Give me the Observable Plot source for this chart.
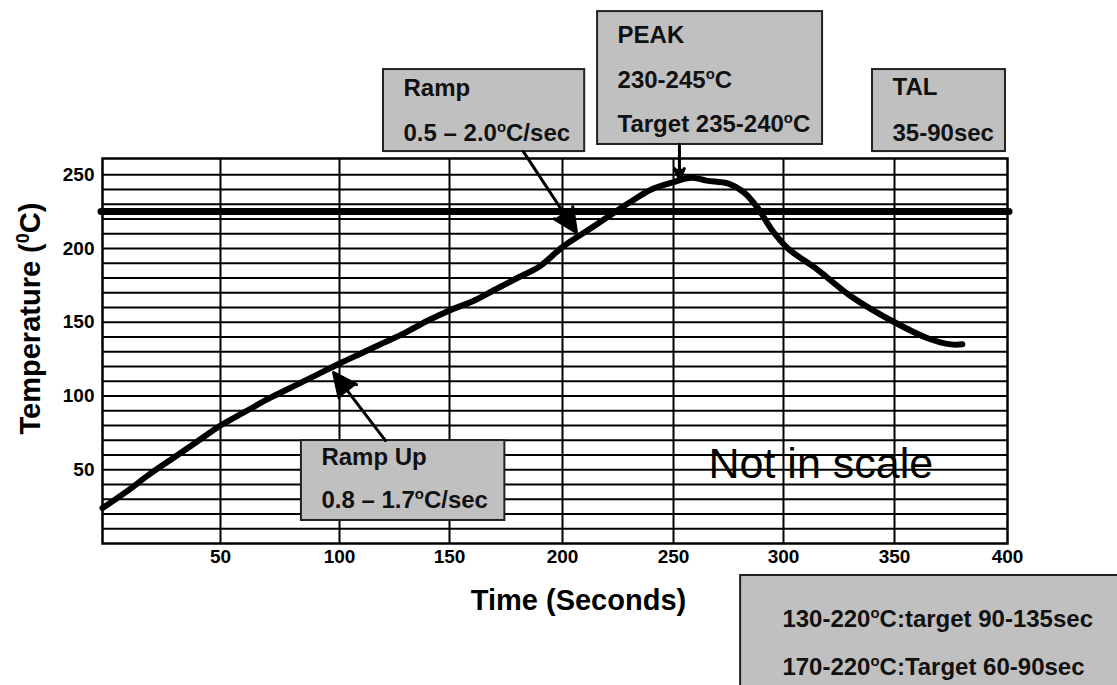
<!DOCTYPE html>
<html><head><meta charset="utf-8">
<script src="https://cdn.jsdelivr.net/npm/d3@7"></script>
<script src="https://cdn.jsdelivr.net/npm/@observablehq/plot@0.6"></script>
<style>
html,body{margin:0;padding:0;background:#fff;}
</style></head><body><div id="chart"></div>
<script>
// Reflow profile: time (s) and temperature (°C)
const time = [0,10,20,30,40,50,60,70,80,90,100,110,120,130,140,150,160,170,180,190,200,210,220,230,240,250,258,265,275,282,288,295,302,315,330,350,365,375,380];
const temp = [24,35,47,58,69,80,89,98,106,114,122,129,136,143,151,158,164,172,180,188,201,211,221,231,240,245,248,246,244,238,228,212,200,186,168,150,139,135,135];

const xTicks = [50,100,150,200,250,300,350,400];
const xGrid = [50,100,150,200,250,300,350];
const yTicks = [50,100,150,200,250];
const yGrid = [10,20,30,40,50,60,70,80,90,100,110,120,130,140,150,160,170,180,190,200,210,220,230,240,250];
const talLevel = [225];

// the drawing is "not in scale": where each 50 s gridline actually sits, in evenly spaced units
const xBreaks = [0,50,100,150,200,250,300,350,400];
const xDrawn  = [0,52.15,104.75,153.37,203.31,252.38,300.99,350.06,400];

// annotation boxes (data units)
const boxNames = ["ramp","peak","tal","rampUp","window"];
const boxX1 = [120, 215.8, 340.1, 84, 280.5];
const boxX2 = [210, 317.6, 399.1, 174.5, 480];
const boxY1 = [265.7, 270.5, 265.7, 15.6, -130];
const boxY2 = [321.3, 360.6, 321.3, 69.8, -21.7];

// annotation text lines ("^" marks a superscript character)
const labelText = ["Ramp","0.5 – 2.0^oC/sec","PEAK","230-245^oC","Target 235-240^oC","TAL","35-90sec","Ramp Up","0.8 – 1.7^oC/sec","130-220^oC:target 90-135sec","170-220^oC:Target 60-90sec"];
const labelX = [129.1,129.1,224.8,224.8,224.8,349.1,349.1,92.4,92.4,299.5,299.5];
const labelY = [308.5,278,344.4,313.9,284.1,309.1,278,58.3,29.2,-51.5,-84.1];

// arrows
const arrX1 = [182.7, 252.7, 120.9];
const arrY1 = [265.7, 270.5, 69.8];
const arrX2 = [206.3, 252.7, 97.5];
const arrY2 = [210.8, 247, 115.9];

const profile = time.map((t,i)=>({t, T: temp[i]}));
const boxes = boxNames.map((n,i)=>({n, x1: boxX1[i], x2: boxX2[i], y1: boxY1[i], y2: boxY2[i]}));
const labels = labelText.map((s,i)=>({s, x: labelX[i], y: labelY[i]}));
const arrows = arrX1.map((d,i)=>({x1: arrX1[i], y1: arrY1[i], x2: arrX2[i], y2: arrY2[i]}));

const warp = d3.scaleLinear().domain(xBreaks).range(xDrawn);

const FONT = "'Liberation Sans', Arial, sans-serif";

const chart = Plot.plot({
  width: 1117,
  height: 685,
  marginLeft: 102,
  marginRight: 110,
  marginTop: 158,
  marginBottom: 142,
  style: {background: "#fff", fontFamily: FONT, color: "#000"},
  x: {domain: [0, 400], transform: (v) => warp(v)},
  y: {domain: [0, 261]},
  marks: [
    Plot.gridY(yGrid, {stroke: "#000", strokeOpacity: 1, strokeWidth: 2}),
    Plot.gridX(xGrid, {stroke: "#000", strokeOpacity: 1, strokeWidth: 2}),
    Plot.frame({stroke: "#000", strokeWidth: 2.5}),
    Plot.axisX(xTicks, {tickSize: 0, tickPadding: 6, fontSize: 19, fontWeight: "bold", label: null, fill: "#000"}),
    Plot.axisY(yTicks, {tickSize: 0, tickPadding: 8, fontSize: 19, fontWeight: "bold", label: null, fill: "#000"}),
    Plot.ruleY(talLevel, {stroke: "#000", strokeWidth: 7, strokeLinecap: "round", insetLeft: -1, insetRight: -2}),
    Plot.line(profile, {x: "t", y: "T", stroke: "#000", strokeWidth: 6, curve: "catmull-rom", strokeLinejoin: "round", strokeLinecap: "round"}),
    Plot.rect(boxes, {x1: "x1", x2: "x2", y1: "y1", y2: "y2", fill: "#c0c0c0", stroke: "#222", strokeWidth: 2}),
    Plot.arrow(arrows, {x1: "x1", y1: "y1", x2: "x2", y2: "y2", stroke: "#000", fill: "#000", strokeWidth: 3, strokeLinejoin: "miter", headLength: 13, headAngle: 50}),
    Plot.text(labels, {x: "x", y: "y", text: "s", textAnchor: "start", fontSize: 24, fontWeight: "bold", fill: "#111"}),
    Plot.text(["Not in scale"], {x: () => 265.9, y: () => 53.8, text: (d) => d, textAnchor: "start", fontSize: 43, fill: "#000"}),
    Plot.text(["Time (Seconds)"], {x: () => 207.2, y: () => -38.6, text: (d) => d, fontSize: 29, fontWeight: "bold", fill: "#000"}),
    Plot.text(["Temperature (^0C)"], {x: () => -30.5, y: () => 152.5, text: (d) => d, rotate: -90, fontSize: 29, fontWeight: "bold", fill: "#000"})
  ]
});

// superscripts
d3.select(chart).selectAll("text").each(function() {
  const el = this;
  const s = el.textContent;
  if (!s.includes("^")) return;
  let fs = 24;
  let p = el;
  while (p && p !== chart) { const a = p.getAttribute && p.getAttribute("font-size"); if (a) { fs = parseFloat(a); break; } p = p.parentNode; }
  while (el.firstChild) el.removeChild(el.firstChild);
  const parts = s.split("^");
  const sel = d3.select(el);
  sel.append("tspan").text(parts[0]);
  for (let i = 1; i < parts.length; i++) {
    const q = parts[i];
    sel.append("tspan").attr("font-size", (fs*0.62)+"px").attr("dy", (-fs*0.38)+"px").text(q[0]);
    sel.append("tspan").attr("dy", (fs*0.38)+"px").text(q.slice(1));
  }
});

document.getElementById("chart").appendChild(chart);
</script>
</body></html>
